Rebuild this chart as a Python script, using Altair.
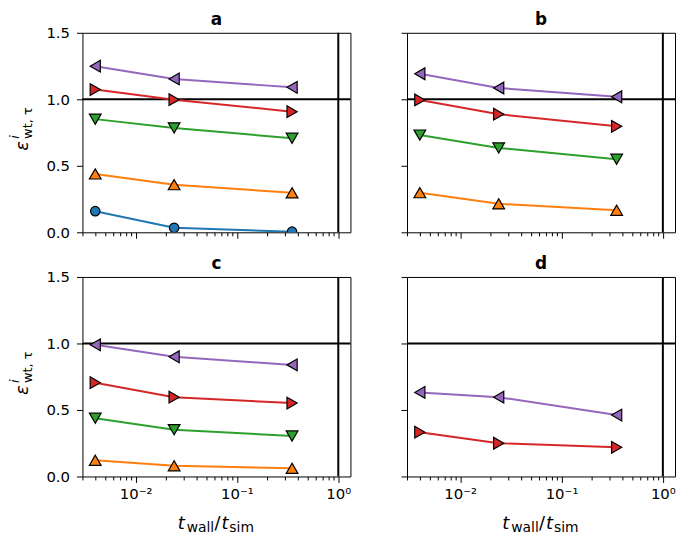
import altair as alt
import pandas as pd

# ---------------- data ----------------
x_ratio = [0.004, 0.024, 0.35]
series_names = ["1", "2", "3", "4", "5"]
series_colors = ["#1f77b4", "#ff7f0e", "#2ca02c", "#d62728", "#9467bd"]
series_shapes = ["circle", "triangle-up", "triangle-down", "triangle-right", "triangle-left"]

a_s1 = [0.159, 0.034, 0.005]
a_s2 = [0.439, 0.358, 0.297]
a_s3 = [0.851, 0.785, 0.707]
a_s4 = [1.073, 0.997, 0.907]
a_s5 = [1.249, 1.153, 1.090]

b_s2 = [0.298, 0.214, 0.166]
b_s3 = [0.731, 0.634, 0.549]
b_s4 = [0.995, 0.888, 0.797]
b_s5 = [1.192, 1.085, 1.019]

c_s2 = [0.122, 0.080, 0.061]
c_s3 = [0.438, 0.352, 0.304]
c_s4 = [0.705, 0.596, 0.552]
c_s5 = [0.990, 0.900, 0.839]

d_s4 = [0.333, 0.250, 0.219]
d_s5 = [0.632, 0.596, 0.462]

panel_titles = ["a", "b", "c", "d"]
x_major_ticks = [0.01, 0.1, 1.0]
x_major_labels = ["10⁻²", "10⁻¹", "10⁰"]
x_minor_ticks = [0.003, 0.004, 0.005, 0.006, 0.007, 0.008, 0.009,
                 0.02, 0.03, 0.04, 0.05, 0.06, 0.07, 0.08, 0.09,
                 0.2, 0.3, 0.4, 0.5, 0.6, 0.7, 0.8, 0.9]
y_ticks = [0.0, 0.5, 1.0, 1.5]
x_domain = [0.00299, 1.318]
y_domain = [0.0, 1.5]
ref_y = [1.0]
ref_x = [1.0]
y_title_parts = ["ε", "i", "wt, τ"]
x_title_parts = ["t", "wall", "/", "t", "sim"]

panel_data = {
    "a": {"1": a_s1, "2": a_s2, "3": a_s3, "4": a_s4, "5": a_s5},
    "b": {"2": b_s2, "3": b_s3, "4": b_s4, "5": b_s5},
    "c": {"2": c_s2, "3": c_s3, "4": c_s4, "5": c_s5},
    "d": {"4": d_s4, "5": d_s5},
}

rows = []
for p, sers in panel_data.items():
    for s, vals in sers.items():
        for xv, yv in zip(x_ratio, vals):
            rows.append({"panel": p, "series": s, "x": xv, "y": yv})
df = pd.DataFrame(rows)

FONT = "DejaVu Sans"
W, H = 270, 201

xscale = alt.Scale(type="log", domain=x_domain, nice=False)
yscale = alt.Scale(domain=y_domain, nice=False, zero=False)
cscale = alt.Scale(domain=series_names, range=series_colors)
sscale = alt.Scale(domain=series_names, range=series_shapes)

major_test = " || ".join(f"datum.value == {v}" for v in x_major_ticks)
label_expr = " : ".join(
    f"datum.value == {v} ? '{lab}'" for v, lab in zip(x_major_ticks, x_major_labels)
) + " : ''"


def x_axis(labels):
    return alt.Axis(
        values=x_major_ticks + x_minor_ticks,
        labels=labels,
        labelExpr=label_expr,
        labelOverlap=False,
        labelFlush=False,
        labelPadding=4,
        tickSize={"condition": {"test": major_test, "value": 6}, "value": 3.5},
        title=None,
    )


def y_axis(labels):
    return alt.Axis(values=y_ticks, format=".1f", labels=labels, tickSize=6,
                    labelPadding=7, title=None)


def text_piece(txt, x, y, size, angle=None, italic=False, bold=False,
               align="center", baseline="middle"):
    kw = dict(fontSize=size, font=FONT, align=align, baseline=baseline, color="black")
    if angle is not None:
        kw["angle"] = angle
    if italic:
        kw["fontStyle"] = "italic"
    if bold:
        kw["fontWeight"] = "bold"
    return alt.Chart(pd.DataFrame({"label": [txt]})).mark_text(**kw).encode(
        text="label:N", x=alt.value(x), y=alt.value(y)
    )


def panel(pid, show_x_labels, show_y_labels, y_title, x_title):
    d = df[df.panel == pid]
    xe = alt.X("x:Q", scale=xscale, axis=x_axis(show_x_labels))
    ye = alt.Y("y:Q", scale=yscale, axis=y_axis(show_y_labels))
    base = alt.Chart(d)
    hline = alt.Chart(pd.DataFrame({"y": ref_y})).mark_rule(color="black", strokeWidth=2).encode(y=ye)
    vline = alt.Chart(pd.DataFrame({"x": ref_x})).mark_rule(color="black", strokeWidth=2).encode(x=xe)
    lines = base.mark_line(strokeWidth=2, clip=True).encode(
        x=xe, y=ye,
        color=alt.Color("series:N", scale=cscale, legend=None),
        detail="series:N",
    )
    pts = base.mark_point(filled=True, stroke="black", strokeWidth=1.2, opacity=1, clip=True).encode(
        x=xe, y=ye,
        fill=alt.Fill("series:N", scale=cscale, legend=None),
        shape=alt.Shape("series:N", scale=sscale, legend=None),
        size=alt.condition(alt.datum.series == "1", alt.value(90), alt.value(140)),
    )
    layers = [hline, vline, lines, pts,
              text_piece(pid, W / 2, -8, 17, bold=True, baseline="alphabetic")]
    if y_title:
        layers += [
            text_piece(y_title_parts[0], -60, 114, 18, angle=270, italic=True),
            text_piece(y_title_parts[1], -68, 105, 13, angle=270, italic=True),
            text_piece(y_title_parts[2], -55, 91, 13, angle=270),
        ]
    if x_title:
        L = W / 2 - 39
        layers += [
            text_piece(x_title_parts[0], L, H + 53, 18, italic=True, align="left", baseline="alphabetic"),
            text_piece(x_title_parts[1], L + 9, H + 56, 14, align="left", baseline="alphabetic"),
            text_piece(x_title_parts[2], L + 37, H + 53, 18, align="left", baseline="alphabetic"),
            text_piece(x_title_parts[3], L + 44, H + 53, 18, italic=True, align="left", baseline="alphabetic"),
            text_piece(x_title_parts[4], L + 52, H + 56, 14, align="left", baseline="alphabetic"),
        ]
    return alt.layer(*layers).properties(width=W, height=H)


pa = panel("a", False, True, True, False)
pb = panel("b", False, False, False, False)
pc = panel("c", True, True, True, True)
pd_ = panel("d", True, False, False, True)

chart = alt.vconcat(
    alt.hconcat(pa, pb, spacing=48),
    alt.hconcat(pc, pd_, spacing=48),
    spacing=13,
).properties(
    padding=0,
).configure_view(
    stroke="black", strokeWidth=1,
).configure_axis(
    labelFont=FONT, labelFontSize=15, labelColor="black",
    tickColor="black", tickWidth=1, domain=False, grid=False,
)

chart.save("out.html", embed_options={"renderer": "svg", "actions": False})
